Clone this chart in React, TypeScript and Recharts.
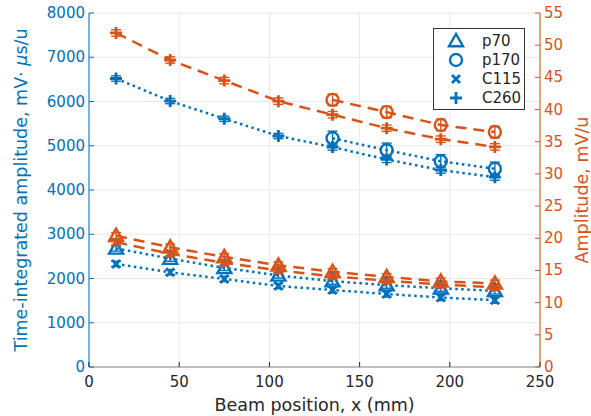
import { LineChart, Line, XAxis, YAxis, CartesianGrid, ErrorBar } from "recharts";

const BLUE = "#0072BD";
const ORANGE = "#D95319";
const DARK = "#262626";
const FONT = "'DejaVu Sans', sans-serif";

const positions = [15, 45, 75, 105, 135, 165, 195, 225];

// time-integrated amplitude (left axis)
const tiP70 = [2680, 2450, 2240, 2070, 1940, 1850, 1780, 1720];
const tiP170 = [null, null, null, null, 5170, 4900, 4650, 4480];
const tiC115 = [2330, 2140, 1990, 1830, 1740, 1650, 1570, 1510];
const tiC260 = [6520, 6010, 5610, 5220, 4970, 4690, 4450, 4290];

// amplitude (right axis)
const amP70 = [20.4, 18.6, 17.1, 15.8, 14.8, 14.0, 13.3, 13.0];
const amP170 = [null, null, null, null, 41.5, 39.6, 37.6, 36.5];
const amC115 = [19.4, 17.6, 16.2, 15.0, 14.1, 13.4, 12.8, 12.4];
const amC260 = [51.9, 47.7, 44.5, 41.3, 39.2, 37.1, 35.4, 34.2];

// error bar half-widths
const tiErr = [60, 60, 60, 60, 70, 70, 70, 70];
const tiErrCircle = [null, null, null, null, 160, 160, 150, 150];
const amErr = [0.5, 0.5, 0.5, 0.5, 0.5, 0.5, 0.5, 0.5];
const amErrCircle = [null, null, null, null, 0.9, 0.9, 0.9, 0.9];

const xTicks = [0, 50, 100, 150, 200, 250];
const leftTicks = [0, 1000, 2000, 3000, 4000, 5000, 6000, 7000, 8000];
const rightTicks = [0, 5, 10, 15, 20, 25, 30, 35, 40, 45, 50, 55];

const legendItems = [
  { name: "p70", shape: "triangle" },
  { name: "p170", shape: "circle" },
  { name: "C115", shape: "x" },
  { name: "C260", shape: "plus" },
];

const data = positions.map((x, i) => ({
  x,
  tiP70: tiP70[i],
  tiP170: tiP170[i],
  tiC115: tiC115[i],
  tiC260: tiC260[i],
  amP70: amP70[i],
  amP170: amP170[i],
  amC115: amC115[i],
  amC260: amC260[i],
  tiErr: tiErr[i],
  tiErrCircle: tiErrCircle[i],
  amErr: amErr[i],
  amErrCircle: amErrCircle[i],
}));

const Marker = ({ shape, cx, cy, color }: { shape: string; cx: number; cy: number; color: string }) => {
  if (shape === "triangle") {
    const s = 7;
    return (
      <polygon
        points={`${cx},${cy - s} ${cx - s},${cy + s * 0.75} ${cx + s},${cy + s * 0.75}`}
        fill="none"
        stroke={color}
        strokeWidth={2.4}
        strokeLinejoin="miter"
      />
    );
  }
  if (shape === "circle") {
    return <circle cx={cx} cy={cy} r={6} fill="none" stroke={color} strokeWidth={2.4} />;
  }
  if (shape === "x") {
    const s = 4;
    return (
      <path
        d={`M${cx - s},${cy - s}L${cx + s},${cy + s}M${cx - s},${cy + s}L${cx + s},${cy - s}`}
        stroke={color}
        strokeWidth={2.8}
      />
    );
  }
  const s = 6;
  return (
    <path d={`M${cx - s},${cy}L${cx + s},${cy}M${cx},${cy - s}L${cx},${cy + s}`} stroke={color} strokeWidth={2.8} />
  );
};

const dotFor = (shape: string, color: string) => (props: any) => {
  const { cx, cy, index } = props;
  if (cx == null || cy == null || isNaN(cy)) return <g key={`e-${shape}-${index}`} />;
  return (
    <g key={`d-${shape}-${index}`}>
      <Marker shape={shape} cx={cx} cy={cy} color={color} />
    </g>
  );
};

const XTick = (props: any) => {
  const { x, y, payload } = props;
  const axisY = y - 4;
  return (
    <g>
      <line x1={x} y1={axisY} x2={x} y2={axisY - 5} stroke={DARK} strokeWidth={1} />
      <text x={x} y={axisY + 20} textAnchor="middle" fill={DARK} fontSize={15} fontFamily={FONT}>
        {payload.value}
      </text>
    </g>
  );
};

const TopTick = (props: any) => {
  const { x, y } = props;
  return <line x1={x} y1={y} x2={x} y2={y + 5} stroke={DARK} strokeWidth={1} />;
};

const LeftTick = (props: any) => {
  const { x, y, payload } = props;
  const axisX = x + 4;
  return (
    <g>
      <line x1={axisX} y1={y} x2={axisX + 5} y2={y} stroke={BLUE} strokeWidth={1} />
      <text x={x} y={y + 5} textAnchor="end" fill={BLUE} fontSize={15} fontFamily={FONT}>
        {payload.value}
      </text>
    </g>
  );
};

const RightTick = (props: any) => {
  const { x, y, payload } = props;
  const axisX = x - 4;
  return (
    <g>
      <line x1={axisX} y1={y} x2={axisX - 5} y2={y} stroke={ORANGE} strokeWidth={1} />
      <text x={x} y={y + 5} textAnchor="start" fill={ORANGE} fontSize={15} fontFamily={FONT}>
        {payload.value}
      </text>
    </g>
  );
};

const LeftLabel = (props: any) => {
  const { viewBox } = props;
  const cx = 27;
  const cy = viewBox.y + viewBox.height / 2;
  return (
    <text
      x={cx}
      y={cy}
      transform={`rotate(-90, ${cx}, ${cy})`}
      textAnchor="middle"
      fill={BLUE}
      fontSize={17.5}
      fontFamily={FONT}
    >
      Time-integrated amplitude, mV·{" "}
      <tspan fontStyle="italic">μ</tspan>s/u
    </text>
  );
};

const RightLabel = (props: any) => {
  const { viewBox } = props;
  const cx = viewBox.x + 48;
  const cy = viewBox.y + viewBox.height / 2;
  return (
    <text
      x={cx}
      y={cy}
      transform={`rotate(-90, ${cx}, ${cy})`}
      textAnchor="middle"
      fill={ORANGE}
      fontSize={17.5}
      fontFamily={FONT}
    >
      Amplitude, mV/u
    </text>
  );
};

const LegendBox = () => (
  <div
    style={{
      position: "absolute",
      left: 433,
      top: 28,
      width: 92,
      boxSizing: "border-box",
      border: "1px solid #333",
      background: "#fff",
      padding: "2px 0",
      fontFamily: FONT,
      fontSize: 15,
      color: DARK,
    }}
  >
    {legendItems.map((item) => (
      <div key={item.name} style={{ display: "flex", alignItems: "center", height: 19 }}>
        <svg width={44} height={19}>
          <Marker shape={item.shape} cx={22} cy={10} color={BLUE} />
        </svg>
        <span style={{ marginLeft: 4 }}>{item.name}</span>
      </div>
    ))}
  </div>
);

const blueSeries = [
  { key: "tiP70", shape: "triangle", err: "tiErr" },
  { key: "tiP170", shape: "circle", err: "tiErrCircle" },
  { key: "tiC115", shape: "x", err: "tiErr" },
  { key: "tiC260", shape: "plus", err: "tiErr" },
];

const orangeSeries = [
  { key: "amP70", shape: "triangle", err: "amErr" },
  { key: "amP170", shape: "circle", err: "amErrCircle" },
  { key: "amC115", shape: "x", err: "amErr" },
  { key: "amC260", shape: "plus", err: "amErr" },
];

export default function App() {
  return (
    <div style={{ position: "absolute", left: 0, top: 0, width: 591, height: 416, background: "#fff" }}>
      <LineChart width={591} height={416} data={data} margin={{ top: 13, right: 0, left: 0, bottom: 0 }}>
        <CartesianGrid yAxisId="left" stroke="#e8e8e8" strokeWidth={1} verticalValues={xTicks} />
        <XAxis
          dataKey="x"
          type="number"
          domain={[0, 250]}
          ticks={xTicks}
          height={49}
          tickSize={0}
          tickMargin={4}
          tickLine={false}
          tick={<XTick />}
          axisLine={{ stroke: "#8c8c8c" }}
          interval={0}
          label={{
            value: "Beam position, x (mm)",
            position: "insideBottom",
            offset: 5,
            fill: DARK,
            fontSize: 17.5,
            fontFamily: FONT,
          }}
        />
        <XAxis
          xAxisId="top"
          dataKey="x"
          type="number"
          orientation="top"
          domain={[0, 250]}
          ticks={xTicks}
          height={0}
          tickSize={0}
          tickMargin={0}
          tickLine={false}
          tick={<TopTick />}
          axisLine={{ stroke: "#8c8c8c" }}
          interval={0}
        />
        <YAxis
          yAxisId="left"
          orientation="left"
          domain={[0, 8000]}
          ticks={leftTicks}
          width={89}
          tickSize={0}
          tickMargin={4}
          tickLine={false}
          tick={<LeftTick />}
          axisLine={{ stroke: BLUE }}
          interval={0}
          label={<LeftLabel />}
        />
        <YAxis
          yAxisId="right"
          orientation="right"
          domain={[0, 55]}
          ticks={rightTicks}
          width={51}
          tickSize={0}
          tickMargin={4}
          tickLine={false}
          tick={<RightTick />}
          axisLine={{ stroke: ORANGE }}
          interval={0}
          label={<RightLabel />}
        />
        {blueSeries.map((s) => (
          <Line
            key={s.key}
            yAxisId="left"
            type="linear"
            dataKey={s.key}
            stroke={BLUE}
            strokeWidth={2.5}
            strokeDasharray="2.5 3.5"
            dot={dotFor(s.shape, BLUE)}
            activeDot={false}
            isAnimationActive={false}
            legendType="none"
          >
            <ErrorBar dataKey={s.err} width={5} stroke={BLUE} strokeWidth={1.4} direction="y" />
          </Line>
        ))}
        {orangeSeries.map((s) => (
          <Line
            key={s.key}
            yAxisId="right"
            type="linear"
            dataKey={s.key}
            stroke={ORANGE}
            strokeWidth={2.5}
            strokeDasharray="11 7"
            dot={dotFor(s.shape, ORANGE)}
            activeDot={false}
            isAnimationActive={false}
            legendType="none"
          >
            <ErrorBar dataKey={s.err} width={5} stroke={ORANGE} strokeWidth={1.4} direction="y" />
          </Line>
        ))}
      </LineChart>
      <LegendBox />
    </div>
  );
}
